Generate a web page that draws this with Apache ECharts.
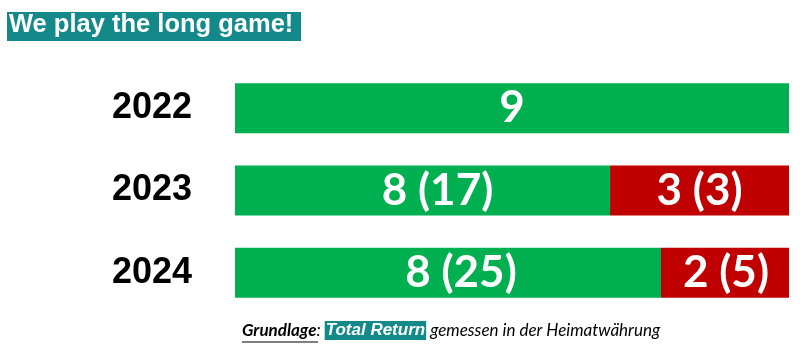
<!DOCTYPE html>
<html><head><meta charset="utf-8">
<script src="https://cdn.jsdelivr.net/npm/echarts@6/dist/echarts.min.js"></script>
<style>html,body{margin:0;padding:0;background:#fff}#c{width:800px;height:358px}</style>
</head><body><div id="c"></div>
<script>
const titleText = "We play the long game!";
const years = ["2022", "2023", "2024"];
// bar shares (percent of full bar width)
const positiveShare = [100, 67.7, 76.9];
const negativeShare = [0, 32.3, 23.1];
const positiveLabels = ["9", "8 (17)", "8 (25)"];
const negativeLabels = ["", "3 (3)", "2 (5)"];
const noteParts = ["Grundlage", ": ", "Total Return", " gemessen in der Heimatwährung"];

const chart = echarts.init(document.getElementById('c'), null, {renderer: 'canvas'});
const labelFont = {color: '#fff', fontFamily: 'Lato', fontWeight: 'bold', fontSize: 44};
const posOffsets = [[0, 0], [15, 0], [13, 0]];
const negOffsets = [[0, 0], [0, 0], [1, 0]];

chart.setOption({
  animation: false,
  grid: {left: 235, right: 11, top: 67, bottom: 44, containLabel: false},
  xAxis: {type: 'value', min: 0, max: 100, show: false},
  yAxis: {
    type: 'category', data: years, inverse: true,
    axisLine: {show: false}, axisTick: {show: false}, splitLine: {show: false},
    axisLabel: {margin: 43, color: '#000', fontFamily: 'Liberation Sans', fontWeight: 'bold', fontSize: 36}
  },
  series: [
    {
      type: 'bar', stack: 's', barWidth: 50,
      itemStyle: {color: '#00b050'},
      data: positiveShare.map((v, i) => ({value: v, label: {show: true, position: 'inside', formatter: positiveLabels[i], offset: posOffsets[i], ...labelFont}}))
    },
    {
      type: 'bar', stack: 's', barWidth: 50,
      itemStyle: {color: '#c00000'},
      data: negativeShare.map((v, i) => ({value: v, label: {show: !!negativeLabels[i], position: 'inside', formatter: negativeLabels[i], offset: negOffsets[i], ...labelFont}}))
    }
  ],
  graphic: [
    {type: 'rect', left: 7, top: 12, shape: {width: 294, height: 29}, style: {fill: '#14898a'}},
    {type: 'text', left: 9, top: 12, style: {text: titleText, fill: '#fff', font: 'bold 25.5px "Liberation Sans"'}},
    {type: 'text', left: 242, top: 321, style: {
      text: '{a|' + noteParts[0] + '}{b|' + noteParts[1] + '}{c|' + noteParts[2] + '}{b|' + noteParts[3] + '}',
      rich: {
        a: {fontFamily: 'Lato', fontStyle: 'italic', fontWeight: 'bold', fontSize: 17, fill: '#000', lineHeight: 21},
        b: {fontFamily: 'Lato', fontStyle: 'italic', fontSize: 17, fill: '#000', lineHeight: 21},
        c: {fontFamily: 'Liberation Sans', fontStyle: 'italic', fontWeight: 'bold', fontSize: 17, fill: '#fff', backgroundColor: '#14898a', padding: [1, 1, 1, 1], lineHeight: 21}
      }
    }},
    {type: 'line', shape: {x1: 242, y1: 342, x2: 318, y2: 342}, style: {stroke: '#000', lineWidth: 1}}
  ]
});
</script></body></html>
